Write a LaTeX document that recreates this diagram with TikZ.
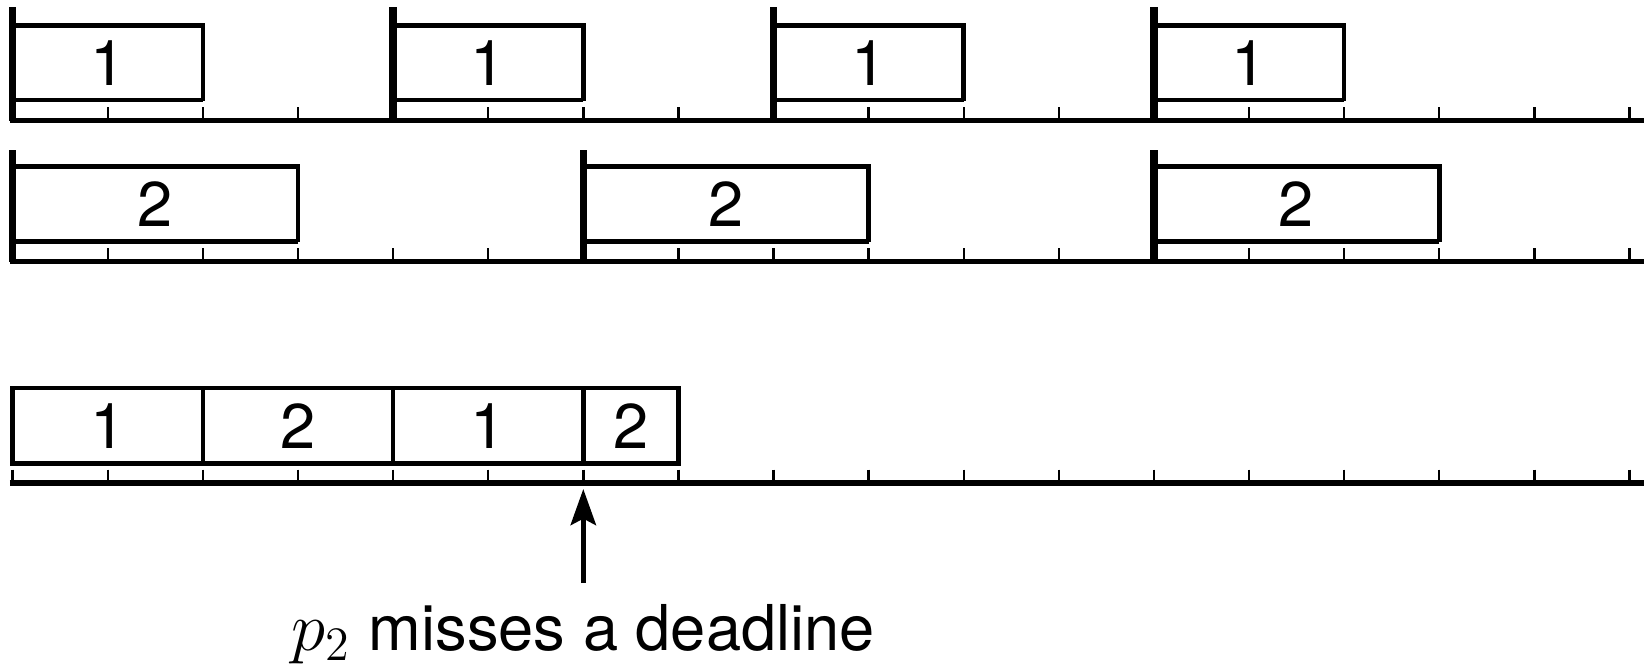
\documentclass[tikz,border=0pt]{standalone}
\usepackage{fontspec}
\setmainfont{TeX Gyre Heros}
\usetikzlibrary{arrows.meta}
\begin{document}
\begin{tikzpicture}[x=23.775pt,y=-0.25pt,
  axis/.style={line width=1.3pt},
  tickmark/.style={line width=0.6pt},
  release/.style={line width=1.9pt},
  jobbox/.style={line width=1.15pt},
  lbl/.style={font=\fontsize{15.8pt}{18pt}\selectfont, inner sep=0pt},
  pointer/.style={line width=1.3pt, -{Stealth[length=9pt,width=6.3pt,inset=1.6pt]}}
  ]
\useasboundingbox (-0.1335,0) rectangle (17.185,665);
% time axes with ticks
\foreach \B in {120.7, 261.5, 483} {
  \draw[axis] (-0.03,\B) -- (17.15,\B);
  \foreach \t in {0,...,17} \draw[tickmark] (\t,\B-13.5) -- (\t,\B);
}
% task 1 (period 4, execution 2)
\foreach \s in {0,4,8,12} {
  \draw[release] (\s,7) -- (\s,120.7);
  \draw[jobbox] (\s,25.7) -- (\s+2,25.7) -- (\s+2,101) (\s+2,100) -- (\s,100);
  \node[lbl] (a\s) at (\s+1,62.9) {1};
}
% task 2 (period 6, execution 3)
\foreach \s in {0,6,12} {
  \draw[release] (\s,150) -- (\s,261.5);
  \draw[jobbox] (\s,166.5) -- (\s+3,166.5) -- (\s+3,242) (\s+3,241.5) -- (\s,241.5);
  \node[lbl] (b\s) at (\s+1.5,204) {2};
}
% schedule
\foreach \s/\e/\j in {0/2/1, 2/4/2, 4/6/1, 6/7/2} {
  \draw[jobbox] (\s,388) rectangle (\e,463.5);
  \node[lbl] (c\s) at ({(\s+\e)/2},425.7) {\j};
}
% deadline miss
\node[lbl, anchor=base] (miss) at (6,650) {{\fontsize{18pt}{20pt}\selectfont$p_2$} misses a deadline};
\coordinate (tail) at (6,583);
\coordinate (tip) at (6,489);
\draw[pointer] (tail) -- (tip);
\end{tikzpicture}
\end{document}
